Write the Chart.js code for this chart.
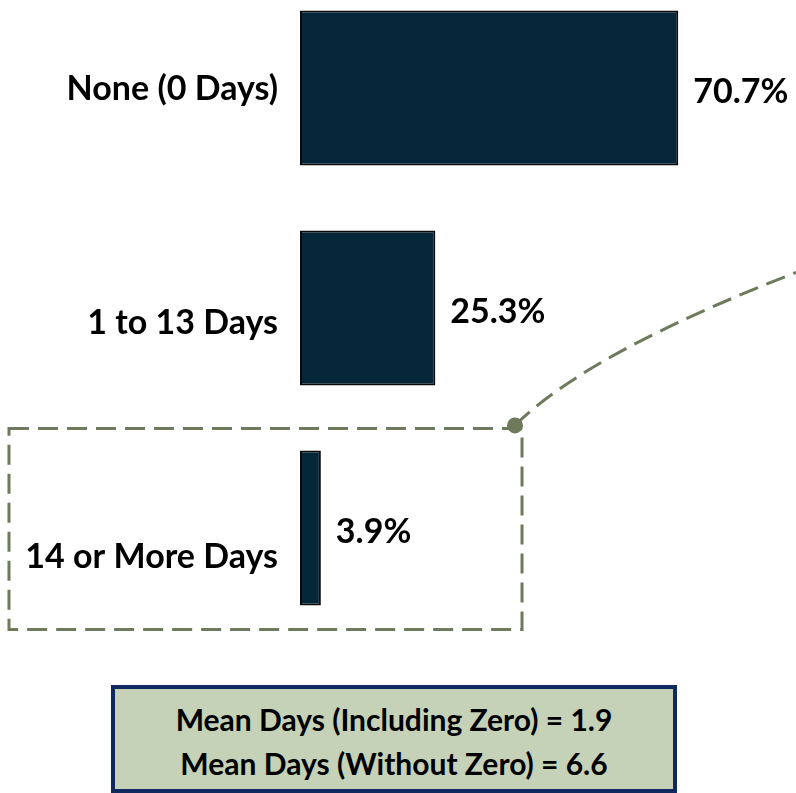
<!DOCTYPE html>
<html>
<head>
<meta charset="utf-8">
<script src="https://cdn.jsdelivr.net/npm/chart.js@4.4.1/dist/chart.umd.min.js"></script>
<style>
  html, body { margin: 0; padding: 0; background: #ffffff; }
  body { width: 796px; height: 793px; position: relative; overflow: hidden; font-family: Lato, "Open Sans", sans-serif; }
  #wrap { position: absolute; left: 0; top: -22px; width: 796px; height: 660px; }
  #note {
    position: absolute; left: 111px; top: 685px; width: 558px; height: 100px;
    background: #c5d2b8; border: 4px solid #10295e;
    font-weight: 700; font-size: 30px; color: #000; text-align: center;
  }
  #note div { height: 44px; line-height: 44px; }
  #note div:first-child { margin-top: 8px; }
</style>
</head>
<body>
<div id="wrap"><canvas id="chart"></canvas></div>
<div id="note">
  <div>Mean Days (Including Zero) = 1.9</div>
  <div>Mean Days (Without Zero) = 6.6</div>
</div>
<script>
// data
const categories = ["None (0 Days)", "1 to 13 Days", "14 or More Days"];
const shares = [70.7, 25.3, 3.9];

const barColor = "#062639";
const dashColor = "#6d7b5c";

// value labels to the right of each bar
const valueLabels = {
    id: "valueLabels",
    afterDatasetsDraw(chart) {
        const ctx = chart.ctx;
        const meta = chart.getDatasetMeta(0);
        ctx.save();
        ctx.font = "700 34px Lato";
        ctx.fillStyle = "#000000";
        ctx.textBaseline = "middle";
        ctx.textAlign = "left";
        meta.data.forEach((bar, i) => {
            ctx.fillText(shares[i].toFixed(1) + "%", bar.x + 15, bar.y + 4);
        });
        ctx.restore();
    }
};

// dashed callout around the last category
const callout = {
    id: "callout",
    afterDraw(chart) {
        const ctx = chart.ctx;
        const bar = chart.getDatasetMeta(0).data[2];
        const top = bar.y - bar.height / 2 - 22;
        const bottom = bar.y + bar.height / 2 + 24;
        const left = 9;
        const right = chart.scales.x.getPixelForValue(41.5);

        ctx.save();
        ctx.strokeStyle = dashColor;
        ctx.lineWidth = 3;
        ctx.setLineDash([20, 9]);
        ctx.strokeRect(left, top, right - left, bottom - top);

        // curved connector going off to the right
        const sx = right - 7, sy = top - 3;
        ctx.beginPath();
        ctx.moveTo(sx, sy);
        ctx.quadraticCurveTo(sx + 72, sy - 72, chart.width, sy - 153);
        ctx.stroke();

        ctx.setLineDash([]);
        ctx.fillStyle = dashColor;
        ctx.beginPath();
        ctx.arc(sx, sy, 8, 0, Math.PI * 2);
        ctx.fill();
        ctx.restore();
    }
};

const labelMin = -0.474, labelMax = 2.346;

new Chart(document.getElementById("chart"), {
    type: "bar",
    data: {
        labels: categories,
        datasets: [{
            data: shares,
            backgroundColor: barColor,
            borderColor: "#0a0a0a",
            borderWidth: 2,
            borderSkipped: false,
            barPercentage: 0.705,
            categoryPercentage: 1
        }]
    },
    options: {
        indexAxis: "y",
        responsive: true,
        maintainAspectRatio: false,
        animation: false,
        layout: { padding: { left: 0, right: 68, top: 0, bottom: 0 } },
        plugins: {
            legend: { display: false },
            tooltip: { enabled: false }
        },
        scales: {
            x: {
                display: false,
                min: 0,
                max: 80
            },
            y: {
                display: false
            },
            // label axis, spaced a little wider than the bars
            yLabels: {
                type: "linear",
                position: "left",
                reverse: true,
                offset: false,
                bounds: "data",
                min: labelMin,
                max: labelMax,
                afterBuildTicks(scale) {
                    scale.ticks = categories.map((c, i) => ({ value: i }));
                },
                afterFit(scale) {
                    scale.width = 300;
                    scale.paddingTop = 0;
                    scale.paddingBottom = 0;
                },
                grid: { display: false, drawTicks: false },
                border: { display: false },
                ticks: {
                    autoSkip: false,
                    padding: 22,
                    color: "#000000",
                    font: { family: "Lato", size: 34, weight: "700" },
                    callback: (v, i) => categories[i]
                }
            }
        }
    },
    plugins: [valueLabels, callout]
});
</script>
</body>
</html>
